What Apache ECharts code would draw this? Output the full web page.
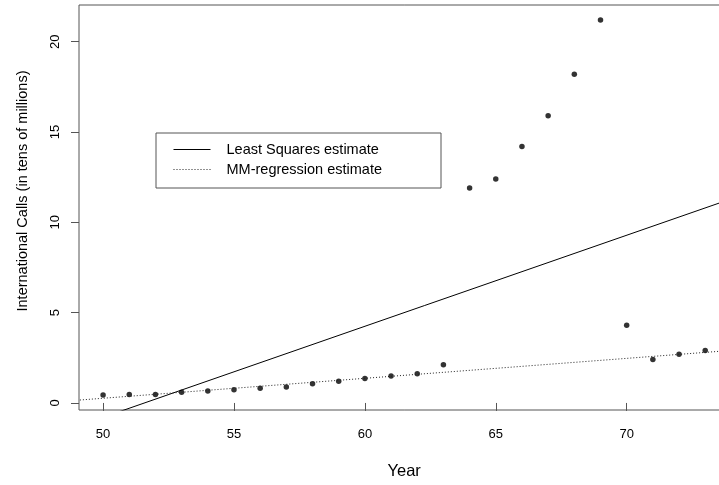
<!DOCTYPE html>
<html>
<head>
<meta charset="utf-8">
<script src="https://cdn.jsdelivr.net/npm/echarts@6/dist/echarts.min.js"></script>
<style>html,body{margin:0;padding:0;background:#fff;overflow:hidden}#c{width:730px;height:485px}</style>
</head>
<body>
<div id="c"></div>
<script>
// Data (international phone calls, tens of millions)
var years = [50,51,52,53,54,55,56,57,58,59,60,61,62,63,64,65,66,67,68,69,70,71,72,73];
var calls = [0.44,0.47,0.47,0.59,0.66,0.73,0.81,0.88,1.06,1.20,1.35,1.49,1.61,2.12,11.9,12.4,14.2,15.9,18.2,21.2,4.3,2.4,2.7,2.9];
// Fitted line endpoints [year, value]
var lsLine = [[49, -1.30], [74, 11.30]];
var mmLine = [[49, 0.15], [74, 2.91]];
var xTicks = [50,55,60,65,70];
var yTicks = [0,5,10,15,20];

var points = years.map(function(y,i){ return [y, calls[i]]; });
var FONT = 'Liberation Sans, Arial, Helvetica, sans-serif';

var chart = echarts.init(document.getElementById('c'), null, {renderer:'canvas'});
chart.setOption({
  animation: false,
  backgroundColor: '#fff',
  grid: {left: 79, top: 5, right: 0.7, bottom: 73, show: true, borderColor: '#555', borderWidth: 1, backgroundColor: 'transparent'},
  legend: {
    left: 156, top: 133, orient: 'vertical',
    data: ['Least Squares estimate', 'MM-regression estimate'],
    itemWidth: 37, itemHeight: 14, itemGap: 5,
    padding: [9, 59, 11, 17],
    borderColor: '#555', borderWidth: 1,
    itemStyle: {opacity: 0},
    lineStyle: {width: 1},
    textStyle: {fontFamily: FONT, fontSize: 14.5, color: '#000', padding: [0,0,0,11], lineHeight: 14}
  },
  xAxis: {
    type: 'value', min: 49.08, max: 73.92,
    splitLine: {show: false},
    axisLine: {show: false},
    axisTick: {show: true, length: 8, customValues: xTicks, lineStyle: {color: '#555'}},
    axisLabel: {customValues: xTicks, fontFamily: FONT, fontSize: 13, color: '#000', margin: 18},
    name: 'Year', nameLocation: 'middle', nameGap: 53,
    nameTextStyle: {fontFamily: FONT, fontSize: 16.5, color: '#000'}
  },
  yAxis: {
    type: 'value', min: -0.39, max: 22.03,
    splitLine: {show: false},
    axisLine: {show: false},
    axisTick: {show: true, length: 8, customValues: yTicks, lineStyle: {color: '#555'}},
    axisLabel: {customValues: yTicks, rotate: 90, fontFamily: FONT, fontSize: 13, color: '#000', margin: 17},
    name: 'International Calls (in tens of millions)', nameLocation: 'middle', nameGap: 49,
    nameTextStyle: {fontFamily: FONT, fontSize: 14.5, color: '#000', padding: [0,0,0,33]}
  },
  series: [
    {type: 'scatter', name: 'calls', data: points, symbol: 'circle', symbolSize: 5.5,
     itemStyle: {color: '#000'}, silent: true},
    {type: 'line', name: 'Least Squares estimate', data: lsLine, showSymbol: false, symbol: 'none', clip: true,
     lineStyle: {color: '#000', width: 1}, itemStyle: {color: '#000'}},
    {type: 'line', name: 'MM-regression estimate', data: mmLine, showSymbol: false, symbol: 'none', clip: true,
     lineStyle: {color: '#222', width: 1, type: [1, 2]}, itemStyle: {color: '#222'}}
  ]
});
</script>
</body>
</html>
